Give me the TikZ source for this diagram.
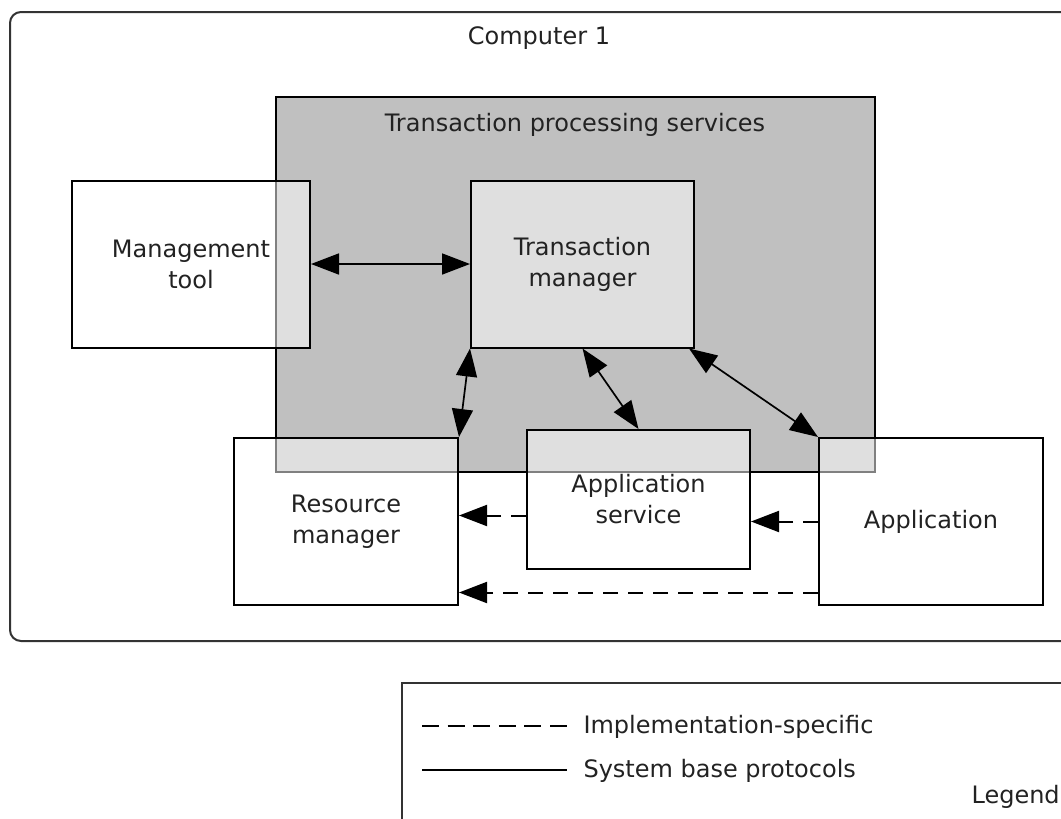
\documentclass[tikz,border=0pt]{standalone}
\usepackage{fontspec}
\setmainfont{DejaVu Sans}
\usetikzlibrary{arrows.meta}
\definecolor{tpsgray}{HTML}{C0C0C0}
\definecolor{textgray}{HTML}{222222}
\tikzstyle{frame} = [draw=black!80, line width=2pt]
\tikzstyle{tpsbox} = [rectangle, minimum width=599pt, minimum height=375pt, draw=black, line width=2pt, fill=tpsgray]
\tikzstyle{component} = [rectangle, minimum width=224pt, minimum height=167pt, draw=black, line width=2pt, fill=white, fill opacity=0.5, text opacity=1, text=textgray, align=center]
\tikzstyle{title} = [anchor=base, text=textgray]
\tikzstyle{arrow} = [line width=1.7pt, {Triangle[length=28pt,width=21pt]}-{Triangle[length=28pt,width=21pt]}]
\tikzstyle{dasharrow} = [line width=2pt, dash pattern=on 15pt off 10pt, -{Triangle[length=28pt,width=21pt]}]

\begin{document}
\begin{tikzpicture}[x=1pt, y=-1pt, font=\fontsize{24pt}{31pt}\selectfont]
\useasboundingbox (0,0) rectangle (1061,819);

% Frames
\draw [frame, rounded corners=11pt] (10,12) rectangle (1100,641);
\draw [frame] (402,683) rectangle (1100,860);
\node (computerTitle) [title] at (539,44) {Computer 1};
\node (tps) [tpsbox] at (575.5,284.5) {};
\node (tpsTitle) [title] at (575,131) {Transaction processing services};

% Nodes
\node (mgmt) [component, minimum width=238pt] at (191,264) {Management\\tool};
\node (tm) [component, minimum width=223pt] at (582.5,264) {Transaction\\manager};
\node (rm) [component] at (346,521.5) {Resource\\manager};
\node (as) [component, minimum width=223pt, minimum height=139pt] at (638.5,499.5) {Application\\service};
\node (app) [component] at (931,521.5) {Application};

% Arrows
\draw [arrow] (mgmt.east) -- (tm.west);
\draw [arrow] (rm.north east) -- (tm.south west);
\draw [arrow] (tm.south) -- (as.north);
\draw [arrow] ([xshift=-6pt]tm.south east) -- (app.north west);

% Implementation-specific calls
\coordinate (asOut) at ([yshift=-16pt]as.west);
\coordinate (appLow) at ([yshift=-71pt]app.west);
\draw [dasharrow] (asOut) -- (asOut -| rm.east);
\draw [dasharrow] (app.west) -- (app.west -| as.east);
\draw [dasharrow] (appLow) -- (appLow -| rm.east);

% Legend
\node (implText) [anchor=base west, text=textgray] at (580,733) {Implementation-specific};
\node (baseText) [anchor=base west, text=textgray] at (580,777) {System base protocols};
\node (legendTitle) [anchor=base west, text=textgray] at (968,803) {Legend};
\draw [line width=1.8pt, dash pattern=on 17pt off 8.6pt] ([xshift=-158pt]implText.west) -- ([xshift=-13pt]implText.west);
\draw [line width=1.8pt] ([xshift=-158pt]baseText.west) -- ([xshift=-13pt]baseText.west);

\end{tikzpicture}
\end{document}
